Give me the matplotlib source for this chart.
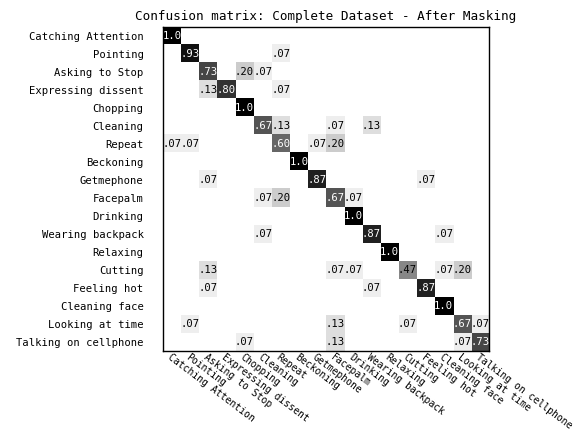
import numpy as np
import matplotlib
matplotlib.use("Agg")
import matplotlib.pyplot as plt

classes = ["Catching Attention", "Pointing", "Asking to Stop", "Expressing dissent",
           "Chopping", "Cleaning", "Repeat", "Beckoning", "Getmephone", "Facepalm",
           "Drinking", "Wearing backpack", "Relaxing", "Cutting", "Feeling hot",
           "Cleaning face", "Looking at time", "Talking on cellphone"]

# (row, col, value) for non-zero cells
cells = [
    (0, 0, 1.0),
    (1, 1, .93), (1, 6, .07),
    (2, 2, .73), (2, 4, .20), (2, 5, .07),
    (3, 2, .13), (3, 3, .80), (3, 6, .07),
    (4, 4, 1.0),
    (5, 5, .67), (5, 6, .13), (5, 9, .07), (5, 11, .13),
    (6, 0, .07), (6, 1, .07), (6, 6, .60), (6, 8, .07), (6, 9, .20),
    (7, 7, 1.0),
    (8, 2, .07), (8, 8, .87), (8, 14, .07),
    (9, 5, .07), (9, 6, .20), (9, 9, .67), (9, 10, .07),
    (10, 10, 1.0),
    (11, 5, .07), (11, 11, .87), (11, 15, .07),
    (12, 12, 1.0),
    (13, 2, .13), (13, 9, .07), (13, 10, .07), (13, 13, .47), (13, 15, .07), (13, 16, .20),
    (14, 2, .07), (14, 11, .07), (14, 14, .87),
    (15, 15, 1.0),
    (16, 1, .07), (16, 9, .13), (16, 13, .07), (16, 16, .67), (16, 17, .07),
    (17, 4, .07), (17, 9, .13), (17, 16, .07), (17, 17, .73),
]

n = len(classes)
cm = np.zeros((n, n))
for r, c, v in cells:
    cm[r, c] = v

plt.rcParams['font.family'] = ['DejaVu Sans Mono']
plt.rcParams['font.size'] = 7.6

fig = plt.figure(figsize=(5.75, 4.34), dpi=100)
ax = fig.add_axes([0.2835, 0.1912, 0.567, 0.7466])
ax.imshow(cm, interpolation='nearest', cmap='gray_r', vmin=0, vmax=1, aspect='auto')
ax.set_title("Confusion matrix: Complete Dataset - After Masking", pad=5)

for r, c, v in cells:
    s = "1.0" if v >= 1 else ("%.2f" % v).lstrip('0')
    ax.text(c, r, s, ha='center', va='center',
            color='white' if v > 0.5 else 'black')

ax.set_xticks(range(n))
ax.set_yticks(range(n))
ax.set_xticklabels(classes, rotation=-37, ha='left', va='top', rotation_mode='anchor',
                   fontsize=7.0)
ax.set_yticklabels(classes)
ax.tick_params(length=0)
ax.tick_params(axis='y', pad=14)
ax.tick_params(axis='x', pad=0.5)
for sp in ax.spines.values():
    sp.set_linewidth(1)

fig.savefig("out.png", dpi=100)
